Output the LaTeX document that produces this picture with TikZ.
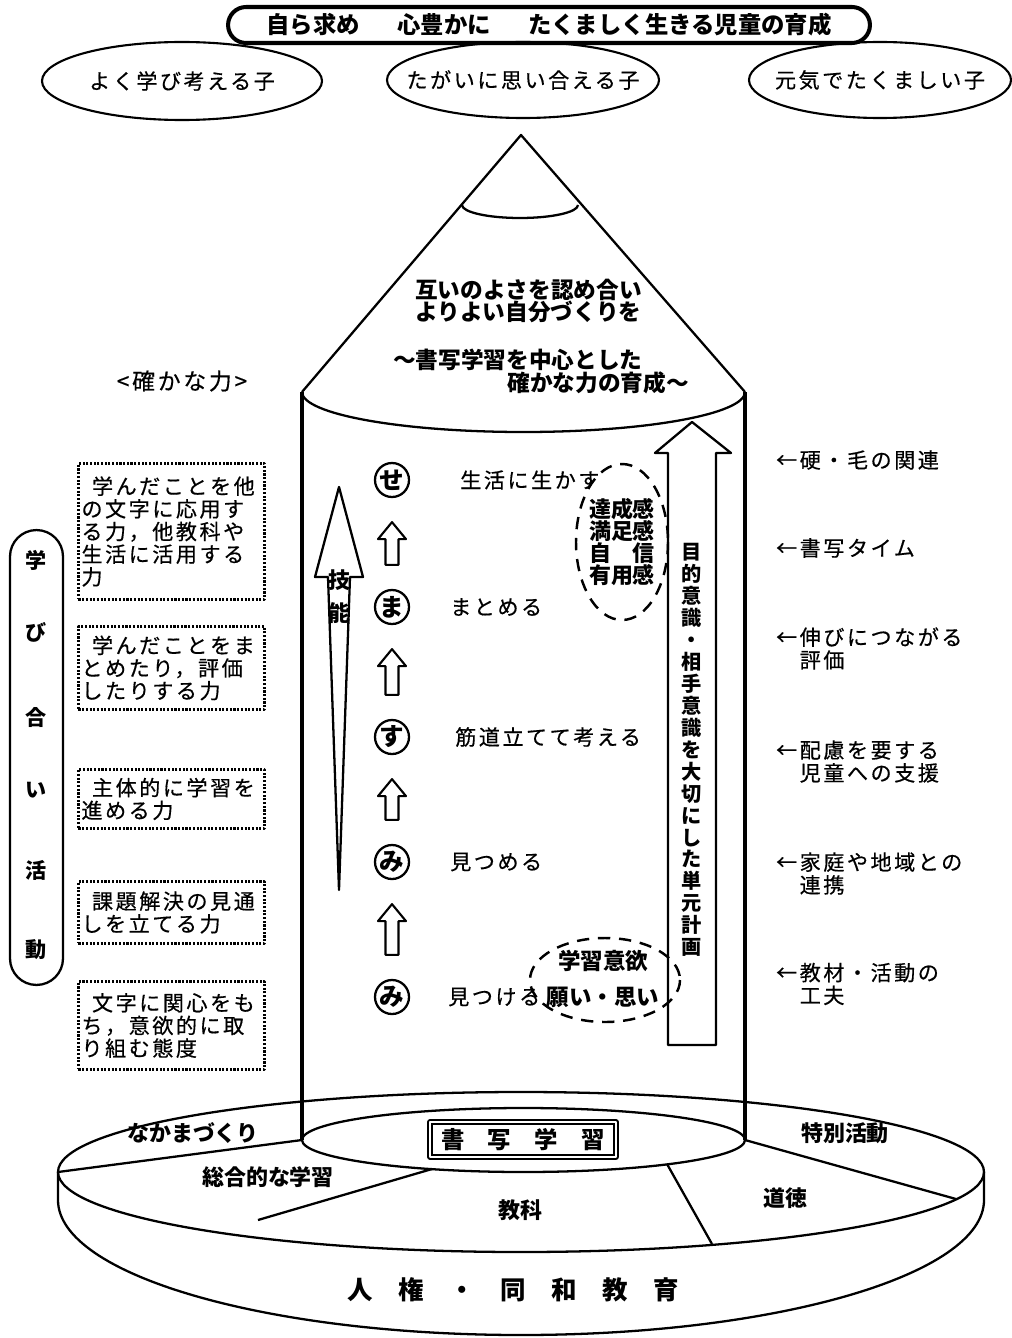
\documentclass[tikz,border=0pt]{standalone}
\usepackage{fontspec}
\setmainfont{Noto Sans CJK JP}
\newfontfamily\spaced{Noto Sans CJK JP}[LetterSpace=12, FakeBold=0.5]
\usetikzlibrary{shapes.geometric,positioning,calc}
\tikzset{>=stealth}

% all coordinates are pixels of the sheet, y runs downwards
\tikzset{
  jp/.style={inner sep=0pt, font=\fontsize{12}{13}\spaced},
  jpb/.style={inner sep=0pt, font=\fontsize{13}{13}\selectfont\bfseries},
  ability/.style={draw, dash pattern=on 1.2pt off 0.9pt, line width=1.7pt, align=left,
    text width=3.6cm, inner xsep=0.06cm, anchor=north west, font=\fontsize{12}{12.9}\spaced},
  kana/.style={draw, circle, line width=1.3pt, minimum size=0.68cm, inner sep=0pt,
    font=\fontsize{14}{14}\selectfont\bfseries},
  dashes/.style={dash pattern=on 7pt off 5pt, line width=1.4pt},
  link/.style={inner sep=0pt, align=left, anchor=west, font=\fontsize{12}{13}\spaced},
  field/.style={inner sep=0pt, font=\fontsize{12.5}{12.5}\selectfont\bfseries},
}

% block arrow between two circled kana, from #2 up to #1
\newcommand\kanaarrow[2]{%
  \draw[line width=1.2pt] ($(#2.north)+(-6.5,-24)$) -- ($(#1.south)+(-6.5,41)$)
    -- ($(#1.south)+(-14,41)$) -- ($(#1.south)+(0,24)$) -- ($(#1.south)+(14,41)$)
    -- ($(#1.south)+(6.5,41)$) -- ($(#2.north)+(6.5,-24)$) -- cycle;}

\begin{document}
\begin{tikzpicture}[x=0.02cm, y=-0.02cm, line width=1.3pt, line join=round]
\useasboundingbox (0,0) rectangle (1011,1338);

% motto and the three goals
\node[draw, line width=2.3pt, rounded corners=0.36cm, minimum width=12.84cm, minimum height=0.72cm,
  inner sep=0pt, font=\fontsize{13.3}{13.3}\selectfont\bfseries] (motto) at (549,25)
  {自ら求め\hspace{1.6em}心豊かに\hspace{1.6em}たくましく生きる児童の育成};
\node[jp] (learn) at (182,81) {よく学び考える子};
\draw[line width=1.2pt] (learn) ellipse [x radius=140, y radius=39];
\node[jp] (care) at (523,80) {たがいに思い合える子};
\draw[line width=1.2pt] (care) ellipse [x radius=136, y radius=38];
\node[jp] (strong) at (880,80) {元気でたくましい子};
\draw[line width=1.2pt] (strong) ellipse [x radius=131, y radius=38];

% pencil: cone, lead and body
\draw (302,392) -- (521,135) -- (745,392);
\draw (462,205) arc[start angle=180, end angle=0, x radius=58, y radius=13];
\draw (302,392) arc[start angle=180, end angle=0, x radius=221.5, y radius=40];
\draw[line width=1.8pt] (302,392) -- (302,1140) (745,392) -- (745,1140);

\node[jpb, align=left, anchor=west, font=\fontsize{12.9}{12.6}\selectfont\bfseries] (aim) at (414,301)
  {互いのよさを認め合い\\よりよい自分づくりを};
\node[jpb, anchor=west, font=\fontsize{12.9}{12.9}\selectfont\bfseries] (theme) at (392,360) {～書写学習を中心とした};
\node[jpb, anchor=east, font=\fontsize{12.9}{12.9}\selectfont\bfseries] (theme2) at (690,383) {確かな力の育成～};

% abilities on the left
\node[jp, font=\fontsize{13}{13}\spaced] (solid) at (182,381) {<確かな力>};
\node[ability, minimum height=2.72cm] (a1) at (77,462)
  {\hspace*{0.5em}学んだことを他\\の文字に応用す\\る力，他教科や\\生活に活用する\\力};
\node[ability, minimum height=1.66cm] (a2) at (77,625)
  {\hspace*{0.5em}学んだことをま\\とめたり，評価\\したりする力};
\node[ability, minimum height=1.18cm] (a3) at (77,768)
  {\hspace*{0.5em}主体的に学習を\\進める力};
\node[ability, minimum height=1.24cm] (a4) at (77,880)
  {\hspace*{0.5em}課題解決の見通\\しを立てる力};
\node[ability, minimum height=1.76cm] (a5) at (77,980)
  {\hspace*{0.5em}文字に関心をも\\ち，意欲的に取\\り組む態度};

\node[draw, rounded corners=0.53cm, minimum width=1.06cm, minimum height=9.1cm, inner sep=0pt] (mutual) at (36.5,757.5) {};
\foreach \ch/\yy in {学/560, び/632, 合/718, い/790, 活/870, 動/950}
  \node[jpb, font=\fontsize{12}{12}\selectfont\bfseries] (mutual-\yy) at (36.5,\yy) {\ch};

% skill arrow
\draw (328,577) -- (315,577) -- (339,487) -- (363,577) -- (350,577) -- (339,890) -- cycle;
\node[jpb, align=center, font=\fontsize{12.5}{18.7}\selectfont\bfseries] (skill) at (339,597) {技\\能};

% learning steps
\foreach \name/\ch/\yy in {se/せ/480, ma/ま/607, su/す/737, mitsu/み/862, mitsuke/み/997}
  \node[kana] (\name) at (392,\yy) {\ch};
\kanaarrow{se}{ma}
\kanaarrow{ma}{su}
\kanaarrow{su}{mitsu}
\kanaarrow{mitsu}{mitsuke}

\node[jp, right=0.98cm of se] (live) {生活に生かす};
\node[jp, right=0.78cm of ma] (sum) {まとめる};
\node[jp, right=0.88cm of su] (think) {筋道立てて考える};
\node[jp, right=0.78cm of mitsu] (look) {見つめる};
\node[jp, right=0.74cm of mitsuke] (find) {見つける};

\node[jpb, align=center, font=\fontsize{12.5}{12.7}\selectfont\bfseries] (feel) at (622,542)
  {達成感\\満足感\\自\hspace{1em}信\\有用感};
\draw[dashes] (feel) ellipse [x radius=46, y radius=78];
\node[jpb, align=center, font=\fontsize{12.8}{12.8}\selectfont\bfseries] (will) at (603,979)
  {学習意欲\\[8pt]願い・思い};
\draw[dashes] (605,980) ellipse [x radius=75, y radius=42];

% unit plan arrow
\draw (668,1045) -- (668,453) -- (655,453) -- (692,422) -- (731,453) -- (716,453) -- (716,1045) -- cycle;
\node[jpb, align=center, font=\fontsize{11.5}{12.5}\selectfont\bfseries] (plan) at (692,750)
  {目\\的\\意\\識\\・\\相\\手\\意\\識\\を\\大\\切\\に\\し\\た\\単\\元\\計\\画};

% supports on the right
\node[link] (r1) at (775,460) {←硬・毛の関連};
\node[link] (r2) at (775,548) {←書写タイム};
\node[link] (r3) at (775,648.5) {←伸びにつながる\\　評価};
\node[link] (r4) at (775,761.5) {←配慮を要する\\　児童への支援};
\node[link] (r5) at (775,873.5) {←家庭や地域との\\　連携};
\node[link] (r6) at (775,984) {←教材・活動の\\　工夫};

% base disc
\draw (521,1172) ellipse [x radius=463, y radius=80];
\draw (58,1172) -- (58,1200) arc[start angle=180, end angle=0, x radius=463, y radius=135] -- (984,1172);
\draw (523.5,1140) ellipse [x radius=221.5, y radius=32];
\draw (302,1140) -- (58,1172);
\draw (745,1140) -- (956,1199);
\draw (432,1169) -- (258,1220);
\draw (667,1164) -- (712,1244);

\node[field] (friends) at (193,1133) {なかまづくり};
\node[field] (special) at (845,1133) {特別活動};
\node[field] (general) at (268,1177) {総合的な学習};
\node[field] (subject) at (520,1210) {教科};
\node[field] (moral) at (785,1198) {道徳};
\node[draw, double, double distance=0.9pt, line width=1pt, minimum width=3.72cm, minimum height=0.7cm,
  inner sep=0pt, font=\fontsize{13.3}{13.3}\selectfont\bfseries] (shosha) at (523,1139.5)
  {書\hspace{1em}写\hspace{1em}学\hspace{1em}習};
\node[inner sep=0pt, font=\fontsize{14.5}{14.5}\selectfont\bfseries] (rights) at (513,1290)
  {人\hspace{1em}権\hspace{1em}・\hspace{1em}同\hspace{1em}和\hspace{1em}教\hspace{1em}育};
\end{tikzpicture}
\end{document}
